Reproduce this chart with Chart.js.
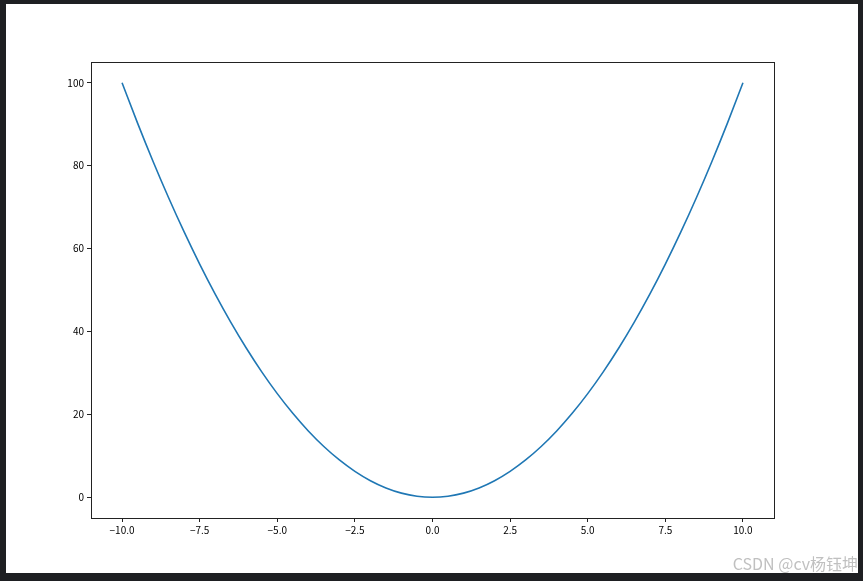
<!DOCTYPE html>
<html>
<head>
<meta charset="utf-8">
<script src="https://cdn.jsdelivr.net/npm/chart.js@4/dist/chart.umd.min.js"></script>
<style>
  html, body { margin: 0; padding: 0; }
  body { width: 863px; height: 581px; background: #1e1f22; position: relative; overflow: hidden; }
  #paper { position: absolute; left: 6px; top: 4px; width: 852px; height: 569px; background: #ffffff; }
  #chart { position: absolute; left: 0; top: 0; }
  #mark {
    position: absolute; right: 5px; top: 551px;
    font-family: "Noto Sans CJK SC", "Noto Sans", sans-serif; font-size: 16px;
    color: rgba(165, 165, 165, 0.7); white-space: nowrap;
  }
</style>
</head>
<body>
<div id="paper"></div>
<canvas id="chart" width="863" height="581"></canvas>
<div id="mark">CSDN @cv杨钰坤</div>
<script>
const xValues = [
  -10, -9.5, -9, -8.5, -8, -7.5, -7, -6.5, -6, -5.5, -5, -4.5, -4, -3.5, -3, -2.5, -2, -1.5, -1, -0.5,
  0, 0.5, 1, 1.5, 2, 2.5, 3, 3.5, 4, 4.5, 5, 5.5, 6, 6.5, 7, 7.5, 8, 8.5, 9, 9.5, 10
];
const yValues = [
  100, 90.25, 81, 72.25, 64, 56.25, 49, 42.25, 36, 30.25, 25, 20.25, 16, 12.25, 9, 6.25, 4, 2.25, 1, 0.25,
  0, 0.25, 1, 2.25, 4, 6.25, 9, 12.25, 16, 20.25, 25, 30.25, 36, 42.25, 49, 56.25, 64, 72.25, 81, 90.25, 100
];
const xTicks = [-10, -7.5, -5, -2.5, 0, 2.5, 5, 7.5, 10];
const yTicks = [0, 20, 40, 60, 80, 100];

const points = xValues.map((x, i) => ({ x: x, y: yValues[i] }));

// matplotlib-style box around the plot area
const frame = {
  id: 'frame',
  afterDraw(chart) {
    const a = chart.chartArea;
    const ctx = chart.ctx;
    ctx.save();
    ctx.strokeStyle = '#222';
    ctx.lineWidth = 1;
    ctx.strokeRect(Math.round(a.left) + 0.5, Math.round(a.top) + 0.5,
      Math.round(a.right - a.left), Math.round(a.bottom - a.top));
    ctx.restore();
  }
};

const tickFont = { family: '"Noto Sans CJK SC", "DejaVu Sans", sans-serif', size: 10 };

new Chart(document.getElementById('chart').getContext('2d'), {
  type: 'line',
  data: {
    datasets: [{
      data: points,
      borderColor: '#1f77b4',
      borderWidth: 1.6,
      pointRadius: 0,
      fill: false,
      cubicInterpolationMode: 'monotone'
    }]
  },
  options: {
    responsive: false,
    animation: false,
    devicePixelRatio: 1,
    layout: { padding: { left: 0, top: 62, right: 89, bottom: 0 } },
    plugins: { legend: { display: false }, tooltip: { enabled: false } },
    scales: {
      x: {
        type: 'linear',
        min: -11,
        max: 11,
        afterBuildTicks: s => { s.ticks = xTicks.map(v => ({ value: v })); },
        afterFit: s => { s.height = 63; },
        border: { display: false },
        grid: { drawOnChartArea: false, drawTicks: true, tickLength: 4, color: '#222' },
        ticks: {
          color: '#000',
          font: tickFont,
          padding: 2,
          maxRotation: 0,
          callback: v => v.toFixed(1).replace('-', '\u2212')
        }
      },
      y: {
        min: -5,
        max: 105,
        afterBuildTicks: s => { s.ticks = yTicks.map(v => ({ value: v })); },
        afterFit: s => { s.width = 91; },
        border: { display: false },
        grid: { drawOnChartArea: false, drawTicks: true, tickLength: 4, color: '#222' },
        ticks: { color: '#000', font: tickFont, padding: 3 }
      }
    }
  },
  plugins: [frame]
});
</script>
</body>
</html>
